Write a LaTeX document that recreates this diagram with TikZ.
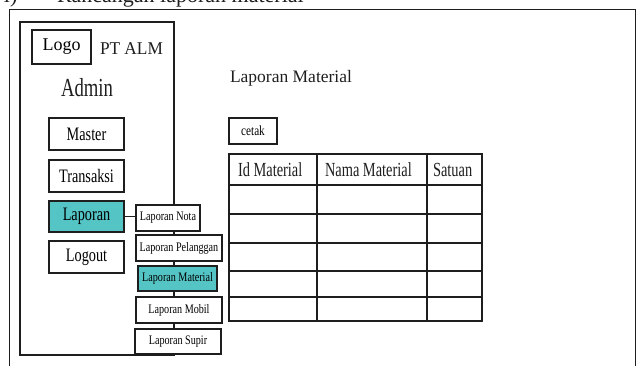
\documentclass[tikz,border=0pt]{standalone}
\usepackage{fontspec}
\setmainfont{Liberation Serif}
\definecolor{tealfill}{RGB}{84,196,196}
\definecolor{ink}{RGB}{30,30,30}
\newcommand{\sqz}[2]{\scalebox{#1}[1]{#2}}
\newcommand{\menuf}{\fontsize{19}{21}\selectfont}
\newcommand{\subf}{\fontsize{13}{15}\selectfont}
\newcommand{\headf}{\fontsize{20}{22}\selectfont}
\begin{document}
\begin{tikzpicture}[x=1pt,y=-1pt,
  line/.style={draw=ink, line width=1.5pt},
  box/.style={line, fill=white, inner sep=0pt, outer sep=0pt},
  hibox/.style={box, fill=tealfill},
  menubox/.style={minimum width=75pt, minimum height=32pt},
  subbox/.style={minimum height=26pt},
  txt/.style={inner sep=0pt, outer sep=0pt, text=ink}]
\useasboundingbox (0,0) rectangle (636,365);
\clip (0,0) rectangle (636,365);
% caption (cut off at top)
\node[txt, anchor=base west] (num) at (4,2) {\fontsize{22}{24}\selectfont i)};
\node[txt, anchor=base west] (cap) at (57,2) {\fontsize{22}{24}\selectfont Rancangan laporan material};
% outer frame
\node[line, inner sep=0pt, anchor=north west, minimum width=626pt, minimum height=380pt] (frame) at (8.5,8.5) {};
% admin panel
\node[line, inner sep=0pt, anchor=north west, minimum width=154pt, minimum height=333pt] (panel) at (19,21) {};
% logo and titles
\node[box, minimum width=59pt, minimum height=34pt] (logo) at (61.5,47) {\fontsize{18}{20}\selectfont Logo};
\node[txt, anchor=base west] (pt) at (100,54) {\fontsize{18}{20}\selectfont\sqz{0.96}{PT ALM}};
\node[txt, anchor=base] (admin) at (87,96) {\fontsize{26}{28}\selectfont\sqz{0.72}{Admin}};
\node[txt, anchor=base west] (title) at (230,82) {\fontsize{17.5}{20}\selectfont Laporan Material};
% menu
\node[box, menubox] (master) at (86.5,134) {\menuf\sqz{0.75}{Master}};
\node[box, menubox] (transaksi) at (86.5,176) {\menuf\sqz{0.75}{Transaksi}};
\node[hibox, menubox, minimum height=31pt] (laporan) at (86.5,216.5) {\menuf\sqz{0.75}{Laporan}};
\node[box, menubox] (logout) at (86.5,257) {\menuf\sqz{0.75}{Logout}};
% submenu
\node[box, subbox, minimum width=64pt] (nota) at (168,218) {\subf\sqz{0.78}{Laporan Nota}};
\node[box, subbox, minimum width=86pt] (pelanggan) at (179,248) {\subf\sqz{0.78}{Laporan Pelanggan}};
\node[hibox, subbox, minimum width=79pt, minimum height=25pt] (material) at (177.5,278.5) {\subf\sqz{0.78}{Laporan Material}};
\node[box, subbox, minimum width=86pt] (mobil) at (179,310) {\subf\sqz{0.78}{Laporan Mobil}};
\node[box, subbox, minimum width=86pt, minimum height=25pt] (supir) at (178,341.5) {\subf\sqz{0.78}{Laporan Supir}};
\draw[line] (laporan.east) -- (laporan.east -| nota.west);
% cetak button
\node[box, minimum width=48pt, minimum height=26pt] (cetak) at (253,131) {\fontsize{14}{16}\selectfont\sqz{0.8}{cetak}};
% table
\draw[line] (229,154) rectangle (482,321);
\foreach \yy in {185,214,243,271,297} \draw[line] (229,\yy) -- (482,\yy);
\foreach \xx in {317,427} \draw[line] (\xx,154) -- (\xx,321);
\node[txt, anchor=base west] (h1) at (238,176) {\headf\sqz{0.72}{Id Material}};
\node[txt, anchor=base west] (h2) at (325,176) {\headf\sqz{0.72}{Nama Material}};
\node[txt, anchor=base west] (h3) at (433,176) {\headf\sqz{0.72}{Satuan}};
\end{tikzpicture}
\end{document}
